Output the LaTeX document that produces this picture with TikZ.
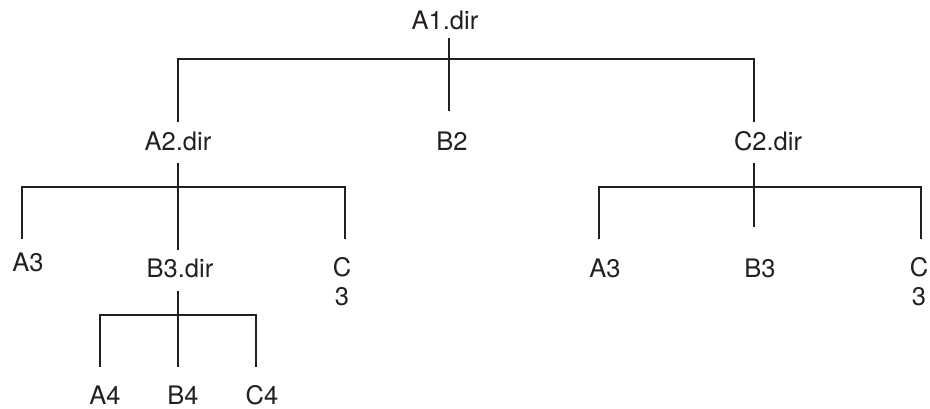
\documentclass[tikz,border=0pt]{standalone}
\usepackage{fontspec}
\setmainfont{TeX Gyre Heros}
\definecolor{ink}{HTML}{231F20}
\begin{document}
\begin{tikzpicture}[x=1pt,y=-1pt,
  lbl/.style={inner sep=0pt,text=ink,font=\fontsize{25.5}{29}\selectfont,align=center},
  link/.style={draw=ink,line width=2.1pt}]
\useasboundingbox (0,0) rectangle (930,408);
% labels
\node[lbl] (A1) at (445,20) {A1.dir};
\node[lbl] (A2) at (178,141) {A2.dir};
\node[lbl] (B2) at (452,141) {B2};
\node[lbl] (C2) at (768,141) {C2.dir};
\node[lbl] (A3) at (28,262) {A3};
\node[lbl] (B3) at (180,268) {B3.dir};
\node[lbl] (C3) at (342,282) {C\\3};
\node[lbl] (A4) at (105,395) {A4};
\node[lbl] (B4) at (183,395) {B4};
\node[lbl] (C4) at (262,395) {C4};
\node[lbl] (rA3) at (605,268) {A3};
\node[lbl] (rB3) at (760,268) {B3};
\node[lbl] (rC3) at (919,282) {C\\3};
% connector end points
\coordinate (A1s) at (449,38);
\coordinate (B2n) at (449,111);
\coordinate (bar1) at (449,59);
\coordinate (A2n) at (178,122);
\coordinate (C2n) at (754,122);
\coordinate (A2s) at (178,163);
\coordinate (B3n) at (178,250);
\coordinate (bar2) at (178,187);
\coordinate (A3n) at (22,239);
\coordinate (C3n) at (345,239);
\coordinate (C2s) at (754,163);
\coordinate (rB3n) at (754,227);
\coordinate (bar3) at (754,187);
\coordinate (rA3n) at (599,239);
\coordinate (rC3n) at (921,239);
\coordinate (B3s) at (178,291);
\coordinate (bar4) at (178,315);
\coordinate (A4n) at (100,367);
\coordinate (B4n) at (178,367);
\coordinate (C4n) at (256,367);
% connectors
\draw[link] (A1s) -- (B2n);
\draw[link] (A2n) -- (A2n |- bar1) -- (C2n |- bar1) -- (C2n);
\draw[link] (A2s) -- (B3n);
\draw[link] (A3n) -- (A3n |- bar2) -- (C3n |- bar2) -- (C3n);
\draw[link] (C2s) -- (rB3n);
\draw[link] (rA3n) -- (rA3n |- bar3) -- (rC3n |- bar3) -- (rC3n);
\draw[link] (B3s) -- (B4n);
\draw[link] (A4n) -- (A4n |- bar4) -- (C4n |- bar4) -- (C4n);
\end{tikzpicture}
\end{document}
